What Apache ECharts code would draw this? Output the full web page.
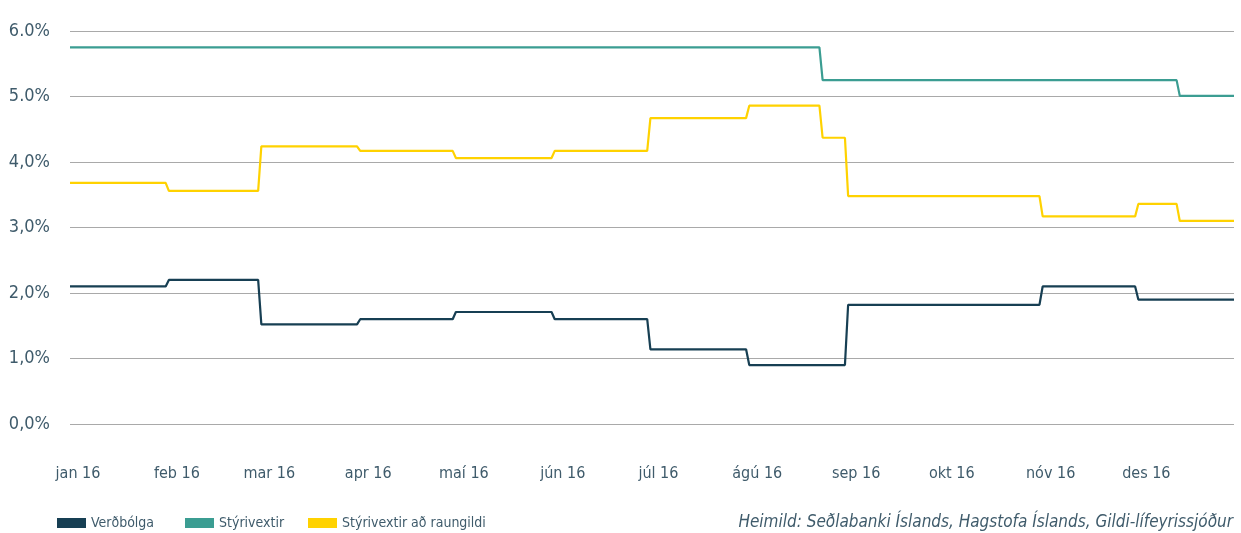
<!DOCTYPE html>
<html>
<head>
<meta charset="utf-8">
<script src="https://cdn.jsdelivr.net/npm/echarts@6/dist/echarts.min.js"></script>
<style>
  html, body { margin: 0; padding: 0; background: #fff; }
  #chart { width: 1241px; height: 533px; }
</style>
</head>
<body>
<div id="chart"></div>
<script>
  // Gögn lesin af myndinni (%)
  const monthLabels = ['jan 16', 'feb 16', 'mar 16', 'apr 16', 'maí 16', 'jún 16',
    'júl 16', 'ágú 16', 'sep 16', 'okt 16', 'nóv 16', 'des 16'];
  const yTickLabels = ['0,0%', '1,0%', '2,0%', '3,0%', '4,0%', '5.0%', '6.0%'];

  const inflDates = ['2016-01-01', '2016-02-01', '2016-03-01', '2016-04-01', '2016-05-01', '2016-06-01',
    '2016-07-01', '2016-08-01', '2016-09-01', '2016-10-01', '2016-11-01', '2016-12-01'];
  const inflValues = [2.1, 2.2, 1.52, 1.6, 1.71, 1.6, 1.14, 0.9, 1.82, 1.82, 2.1, 1.9];

  const rateDates = ['2016-01-01', '2016-08-24', '2016-12-14'];
  const rateValues = [5.75, 5.25, 5.01];

  const realDates = ['2016-01-01', '2016-02-01', '2016-03-01', '2016-04-01', '2016-05-01', '2016-06-01',
    '2016-07-01', '2016-08-01', '2016-08-24', '2016-09-01', '2016-11-01', '2016-12-01', '2016-12-14'];
  const realValues = [3.68, 3.56, 4.24, 4.17, 4.06, 4.17, 4.67, 4.86, 4.37, 3.48, 3.17, 3.36, 3.10];

  const seriesNames = ['Verðbólga', 'Stýrivextir', 'Stýrivextir að raungildi'];

  const DAY = 864e5;
  const endDate = '2016-12-31';

  function toTime(s) {
    const p = s.split('-');
    return new Date(+p[0], +p[1] - 1, +p[2]).getTime();
  }

  // daglegar tröppur: gildið heldur sér til dagsins fyrir næstu breytingu
  function steps(dates, values) {
    const pts = [];
    for (let i = 0; i < dates.length; i++) {
      const start = toTime(dates[i]);
      const end = i + 1 < dates.length ? toTime(dates[i + 1]) - DAY : toTime(endDate);
      pts.push([start, values[i]]);
      pts.push([end, values[i]]);
    }
    return pts;
  }

  const font = '"Liberation Sans Narrow", "DejaVu Sans Condensed", "Noto Sans", sans-serif';
  const textColor = '#3f5b6b';

  // ein goðsögn fyrir hvern lið svo staðsetningin passi
  const legendLeft = [52, 180, 303];
  const legends = seriesNames.map(function (name, i) {
    return {
      left: legendLeft[i],
      top: 511,
      itemWidth: 29,
      itemHeight: 10,
      itemGap: 5,
      icon: 'rect',
      textStyle: { color: textColor, fontSize: 14, fontFamily: font },
      data: [name]
    };
  });

  const chart = echarts.init(document.getElementById('chart'));
  chart.setOption({
    animation: false,
    grid: { left: 70, right: 7, top: 31, bottom: 109 },
    legend: legends,
    graphic: [{
      type: 'text',
      right: 8,
      top: 514,
      style: {
        text: 'Heimild: Seðlabanki Íslands, Hagstofa Íslands, Gildi-lífeyrissjóður',
        fill: textColor,
        font: 'italic 17px ' + font
      }
    }],
    xAxis: {
      type: 'time',
      min: toTime('2016-01-01'),
      max: toTime(endDate),
      minInterval: 28 * DAY,
      maxInterval: 31 * DAY,
      axisLine: { show: false },
      axisTick: { show: false },
      splitLine: { show: false },
      axisLabel: {
        margin: 42,
        color: textColor,
        fontSize: 16,
        fontFamily: font,
        padding: [0, 0, 0, 16],
        showMaxLabel: false,
        formatter: function (val) {
          const d = new Date(val);
          return d.getDate() === 1 ? monthLabels[d.getMonth()] : '';
        }
      }
    },
    yAxis: {
      type: 'value',
      min: 0,
      max: 6,
      interval: 1,
      axisLine: { show: false },
      axisTick: { show: false },
      splitLine: { lineStyle: { color: '#a9a9a9', width: 1 } },
      axisLabel: {
        margin: 20,
        color: textColor,
        fontSize: 18,
        fontFamily: font,
        formatter: function (val) { return yTickLabels[Math.round(val)]; }
      }
    },
    series: [
      {
        name: seriesNames[0],
        type: 'line',
        data: steps(inflDates, inflValues),
        showSymbol: false,
        color: '#173f53',
        lineStyle: { width: 2.2, color: '#173f53' }
      },
      {
        name: seriesNames[1],
        type: 'line',
        data: steps(rateDates, rateValues),
        showSymbol: false,
        color: '#3b9d92',
        lineStyle: { width: 2.2, color: '#3b9d92' }
      },
      {
        name: seriesNames[2],
        type: 'line',
        data: steps(realDates, realValues),
        showSymbol: false,
        color: '#ffd200',
        lineStyle: { width: 2.2, color: '#ffd200' }
      }
    ]
  });
</script>
</body>
</html>
